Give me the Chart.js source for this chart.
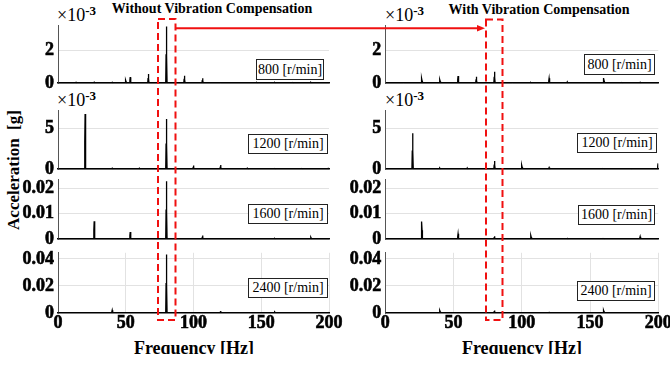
<!DOCTYPE html>
<html>
<head>
<meta charset="utf-8">
<script src="https://cdn.jsdelivr.net/npm/chart.js@4.4.1/dist/chart.umd.min.js"></script>
<style>
html, body { margin: 0; padding: 0; background: #fff; overflow: hidden; }
#wrap { position: relative; width: 670px; height: 365px; overflow: hidden; font-family: 'Liberation Serif', 'Times New Roman', serif; color: #000; }
#wrap canvas { position: absolute; }
.title { position: absolute; font-weight: bold; font-size: 14px; white-space: nowrap; transform: translateX(-50%); line-height: 16px; }
.exp { position: absolute; font-size: 18px; white-space: nowrap; line-height: 20px; }
.exp sup { font-size: 13px; font-weight: bold; vertical-align: 6px; }
.speed { position: absolute; box-sizing: border-box; border: 1px solid #222; background: #fff; font-size: 14px; line-height: 18px; text-align: center; white-space: nowrap; }
.ylab { position: absolute; left: 14px; top: 170px; transform: translate(-50%, -50%) rotate(-90deg); font-weight: bold; font-size: 17px; white-space: pre; }
.xlab { position: absolute; top: 339px; height: 15px; width: 200px; overflow: hidden; text-align: center; }
.xlab span { font-weight: bold; font-size: 18px; line-height: 18px; white-space: nowrap; }
#marks { position: absolute; left: 0; top: 0; }
</style>
</head>
<body>
<div id="wrap">
  <div class="title" style="left:212px; top:1px;">Without Vibration Compensation</div>
  <div class="title" style="left:539px; top:2px;">With Vibration Compensation</div>
  <div class="exp" style="left:57px; top:1px;">×10<sup>-3</sup></div>
  <div class="exp" style="left:385px; top:1px;">×10<sup>-3</sup></div>
  <div class="exp" style="left:57px; top:86px;">×10<sup>-3</sup></div>
  <div class="exp" style="left:385px; top:86px;">×10<sup>-3</sup></div>
  <div class="ylab">Acceleration  [g]</div>
  <div class="xlab" style="left:94px;"><span>Frequency [Hz]</span></div>
  <div class="xlab" style="left:422px;"><span>Frequency [Hz]</span></div>
</div>
<script>
// spectrum peaks, amplitude in g
const freq800 = [13.3, 26.7, 40, 50, 53.3, 66.7, 80, 93.3, 106.7, 120, 133.3, 146.7, 160, 173.3, 186.7];
const without800 = [0.05e-3, 0.06e-3, 0.05e-3, 0.19e-3, 0.37e-3, 0.56e-3, 3.45e-3, 0.46e-3, 0.30e-3, 0.05e-3, 0.03e-3, 0.04e-3, 0.04e-3, 0.03e-3, 0.05e-3];
const with800 = [0.05e-3, 0.30e-3, 0.22e-3, 0.03e-3, 0.44e-3, 0.39e-3, 0.70e-3, 0.05e-3, 0.04e-3, 0.30e-3, 0.08e-3, 0.08e-3, 0.31e-3, 0.03e-3, 0.05e-3];

const freq1200 = [20, 40, 60, 80, 100, 120, 140, 160, 180, 199.8];
const without1200 = [6.70e-3, 0.12e-3, 0.12e-3, 6.10e-3, 0.44e-3, 0.50e-3, 0.10e-3, 0.06e-3, 0.05e-3, 0.05e-3];
const with1200 = [4.37e-3, 0.15e-3, 0.15e-3, 1.00e-3, 0.52e-3, 0.20e-3, 0.05e-3, 0.05e-3, 0.05e-3, 0.70e-3];

const freq1600 = [26.7, 53.3, 80, 106.7, 133.3, 160, 186.7];
const without1600 = [0.0071, 0.0028, 0.0228, 0.0015, 0.0004, 0.0003, 0.0008];
const with1600 = [0.0070, 0.0021, 0.0012, 0.0015, 0.0003, 0.0002, 0.0010];

const freq2400 = [40, 80, 120, 160, 200];
const without2400 = [0.0021, 0.0433, 0.0014, 0.0008, 0.0003];
const with2400 = [0.0019, 0.0019, 0.0004, 0.0021, 0.0003];

const speedLabels = ['800 [r/min]', '1200 [r/min]', '1600 [r/min]', '2400 [r/min]'];
const yTicks = [[0, 0.002], [0, 0.005], [0, 0.01, 0.02], [0, 0.02, 0.04]];
const yMax = [0.0035, 0.0071, 0.0234, 0.0445];
const yScaled = [true, true, false, false]; // shown as x10^-3
const xTicks = [0, 50, 100, 150, 200];

const rows = [
  { top: 23, bottom: 86 },
  { top: 108, bottom: 172 },
  { top: 177, bottom: 242 },
  { top: 250, bottom: 313 }
];
const cols = [
  { left: 0, width: 345, axisW: 58, padR: 16 },
  { left: 325, width: 350, axisW: 60.3, padR: 16.7 }
];
const boxes = [
  [[256, 59, 68, 21], [584, 54, 71, 21]],
  [[248, 134, 80, 20], [577, 133, 80, 20]],
  [[248, 204, 80, 20], [578, 205, 77, 20]],
  [[248, 278, 80, 20], [577, 281, 78, 20]]
];

const panels = [
  [[freq800, without800], [freq800, with800]],
  [[freq1200, without1200], [freq1200, with1200]],
  [[freq1600, without1600], [freq1600, with1600]],
  [[freq2400, without2400], [freq2400, with2400]]
];

const tickFont = { family: 'Liberation Serif', size: 18, weight: 700 };
const gridGrey = '#e2e2e2';

// each peak as a narrow spike with half-height shoulders (neighbouring FFT bins)
function spikes(freqs, amps) {
  const pts = [{ x: 0, y: 0 }, { x: 200, y: 0 }];
  freqs.forEach((f, i) => {
    const a = amps[i];
    pts.push({ x: f - 0.5, y: 0 }, { x: f - 0.25, y: a * 0.5 }, { x: f, y: a }, { x: f + 0.25, y: a * 0.5 }, { x: f + 0.5, y: 0 });
  });
  pts.sort((p, q) => p.x - q.x);
  return pts;
}

const wrap = document.getElementById('wrap');

rows.forEach((row, r) => {
  const isLast = r === rows.length - 1;
  cols.forEach((col, c) => {
    const padTop = 12;
    const padBottom = isLast ? 0 : 12;
    const xH = isLast ? 35 : 0;
    const canvas = document.createElement('canvas');
    canvas.width = col.width;
    canvas.height = (row.bottom - row.top) + padTop + padBottom + xH;
    canvas.style.left = col.left + 'px';
    canvas.style.top = (row.top - padTop) + 'px';
    wrap.appendChild(canvas);

    const [fr, amp] = panels[r][c];
    new Chart(canvas, {
      type: 'line',
      data: {
        datasets: [{
          data: spikes(fr, amp),
          borderColor: '#000',
          borderWidth: 1.3,
          pointRadius: 0,
          tension: 0,
          fill: false
        }]
      },
      options: {
        responsive: false,
        animation: false,
        events: [],
        layout: { autoPadding: false, padding: { top: padTop, right: col.padR, bottom: padBottom, left: 0 } },
        plugins: { legend: { display: false }, tooltip: { enabled: false } },
        scales: {
          x: {
            type: 'linear',
            min: 0,
            max: 200,
            afterBuildTicks: s => { s.ticks = xTicks.map(v => ({ value: v })); },
            ticks: { display: isLast, padding: 0, font: tickFont, color: '#000', textStrokeColor: '#000', textStrokeWidth: 0.6 },
            grid: { drawTicks: false, color: ctx => (isLast && ctx.tick && ctx.tick.value > 0) ? gridGrey : 'transparent' },
            border: { color: '#000', width: 1.6 },
            afterFit: s => { s.height = xH; }
          },
          y: {
            min: 0,
            max: yMax[r],
            afterBuildTicks: s => { s.ticks = yTicks[r].map(v => ({ value: v })); },
            ticks: {
              padding: 4,
              font: tickFont,
              color: '#000',
              textStrokeColor: '#000',
              textStrokeWidth: 0.6,
              callback: v => yScaled[r] ? String(Math.round(v / 1e-3)) : String(Number(v.toFixed(4)))
            },
            grid: { drawTicks: false, color: ctx => (ctx.tick && ctx.tick.value > 0) ? gridGrey : 'transparent' },
            border: { color: '#555', width: 1 },
            afterFit: s => { s.width = col.axisW; }
          }
        }
      }
    });

    const b = boxes[r][c];
    const box = document.createElement('div');
    box.className = 'speed';
    box.style.left = b[0] + 'px';
    box.style.top = b[1] + 'px';
    box.style.width = b[2] + 'px';
    box.style.height = b[3] + 'px';
    box.style.lineHeight = (b[3] - 2) + 'px';
    box.textContent = speedLabels[r];
    wrap.appendChild(box);
  });
});

// red dashed highlight boxes and the arrow between them
const svgNS = 'http://www.w3.org/2000/svg';
const svg = document.createElementNS(svgNS, 'svg');
svg.setAttribute('id', 'marks');
svg.setAttribute('width', 670);
svg.setAttribute('height', 365);
svg.innerHTML =
  '<rect x="158" y="19" width="17.5" height="301" fill="none" stroke="#f01010" stroke-width="2" stroke-dasharray="7,4"/>' +
  '<rect x="486" y="19.5" width="16.5" height="300.5" fill="none" stroke="#f01010" stroke-width="2" stroke-dasharray="7,4"/>' +
  '<line x1="176" y1="28.3" x2="479" y2="28.3" stroke="#f01010" stroke-width="2"/>' +
  '<polygon points="477,25 485,28.3 477,31.6" fill="#f01010"/>';
wrap.appendChild(svg);
</script>
</body>
</html>
